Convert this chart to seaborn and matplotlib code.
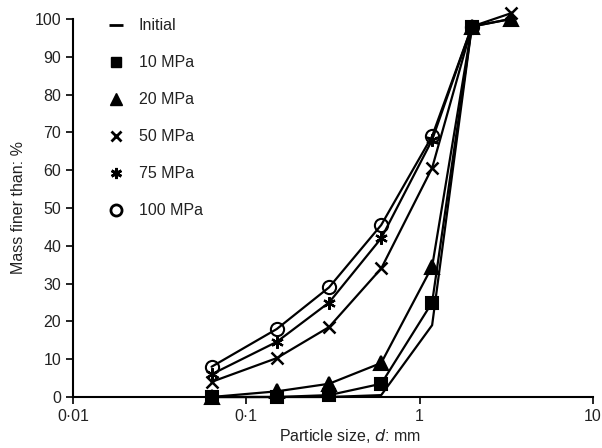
import matplotlib
matplotlib.use("Agg")
import matplotlib.pyplot as plt
from matplotlib.lines import Line2D
import seaborn as sns
import pandas as pd

nan = float('nan')
sizes = [0.063, 0.15, 0.3, 0.6, 1.18, 2.0, 3.35]
initial = [0, 0, 0, 0.5, 19, 98, 100]
mpa10 = [0, 0, 0.5, 3.5, 25, 98, nan]
mpa20 = [0, 1.5, 3.5, 9, 34.5, 98, 100]
mpa50 = [4, 10.3, 18.5, 34, 60.6, 98, 101.5]
mpa75 = [6, 14.6, 25, 42, 68, 98, nan]
mpa100 = [8, 18, 29, 45.5, 69, 98, nan]
labels = ["Initial", "10 MPa", "20 MPa", "50 MPa", "75 MPa", "100 MPa"]
xticks = [0.01, 0.1, 1, 10]
xticklabels = ["0\u00b701", "0\u00b71", "1", "10"]
yticks = list(range(0, 101, 10))

series = [initial, mpa10, mpa20, mpa50, mpa75, mpa100]
sns.set_style("white")
plt.rcParams['font.family'] = ['Liberation Sans', 'DejaVu Sans']

fig = plt.figure(figsize=(6.02, 4.48), dpi=100)
ax = fig.add_axes([73/602, 1-397/448, (593-73)/602, (397-19)/448])

markers = [None, 's', '^', 'x', (6, 2, 0), 'o']
msizes = [0, 8.5, 9.5, 8.5, 9, 9.5]
mfc = ['k', 'k', 'k', 'k', 'k', 'none']
mew = [1.5, 1.5, 1.5, 1.8, 1.6, 1.5]
zorders = [3, 6, 5, 5.5, 4, 4]

for vals, lab, m, ms, fc, ew, z in zip(series, labels, markers, msizes, mfc, mew, zorders):
    df = pd.DataFrame({"size": sizes, "pct": vals}).dropna()
    sns.lineplot(data=df, x="size", y="pct", ax=ax, color='k', linewidth=1.6,
                 marker=m, markersize=ms, markerfacecolor=fc, markeredgecolor='k',
                 markeredgewidth=ew, legend=False, clip_on=False, zorder=z)

ax.set_xscale('log')
ax.set_xlim(0.01, 10)
ax.set_ylim(0, 100)
ax.set_xticks(xticks)
ax.set_xticklabels(xticklabels)
ax.minorticks_off()
ax.set_yticks(yticks)
ax.tick_params(axis='both', direction='out', length=5, width=1.2, labelsize=11.5,
               bottom=True, left=True, colors='k', labelcolor='#222222')
for s in ['top', 'right']:
    ax.spines[s].set_visible(False)
for s in ['left', 'bottom']:
    ax.spines[s].set_linewidth(1.5)
    ax.spines[s].set_color('k')

ax.set_xlabel("Particle size, $\\it{d}$: mm", fontsize=11.5, color='#222222')
ax.set_ylabel("Mass finer than: %", fontsize=11.5, color='#222222')
ax.xaxis.set_label_coords((350-73)/520, -0.08)
ax.yaxis.set_label_coords(-0.09, 0.5)

handles = [
    Line2D([], [], color='k', marker='_', linestyle='none', markersize=10, markeredgewidth=2),
    Line2D([], [], color='k', marker='s', linestyle='none', markersize=7),
    Line2D([], [], color='k', marker='^', linestyle='none', markersize=8),
    Line2D([], [], color='k', marker='x', linestyle='none', markersize=7, markeredgewidth=2),
    Line2D([], [], color='k', marker=(6, 2, 0), linestyle='none', markersize=8, markeredgewidth=2),
    Line2D([], [], color='k', marker='o', linestyle='none', markersize=8, markerfacecolor='none', markeredgewidth=2),
]
leg = ax.legend(handles, labels, loc='upper left', bbox_to_anchor=(0.04, 1.04), frameon=False,
                fontsize=11.5, labelspacing=1.38, handlelength=1.0, handletextpad=0.9)
for t in leg.get_texts():
    t.set_color('#222222')

fig.savefig("out.png", dpi=100)
